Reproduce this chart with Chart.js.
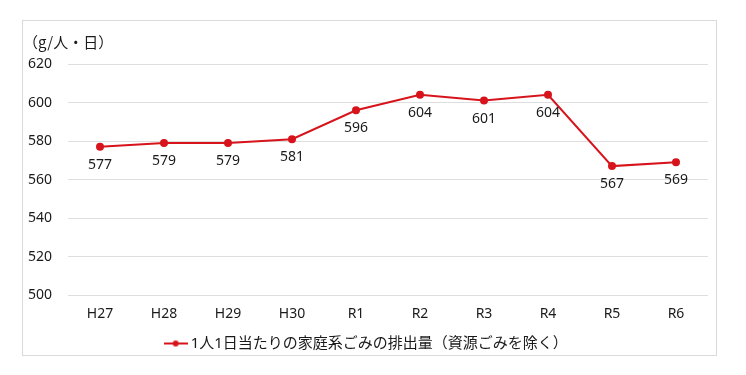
<!DOCTYPE html>
<html>
<head>
<meta charset="utf-8">
<script src="https://cdn.jsdelivr.net/npm/chart.js@4/dist/chart.umd.min.js"></script>
<style>
  html, body { margin: 0; padding: 0; background: #fff; }
  #wrap { width: 746px; height: 375px; }
</style>
</head>
<body>
<div id="wrap"><canvas id="chart" width="746" height="375"></canvas></div>
<script>
// データ
const years = ['H27', 'H28', 'H29', 'H30', 'R1', 'R2', 'R3', 'R4', 'R5', 'R6'];
const perPersonGrams = [577, 579, 579, 581, 596, 604, 601, 604, 567, 569];
const seriesName = '1人1日当たりの家庭系ごみの排出量（資源ごみを除く）';
const unitLabel = '（g/人・日）';
const yMin = 500;
const yMax = 620;
const yStep = 20;

const RED = '#d7141c';
const FONT = "'Noto Sans', 'Noto Sans CJK JP', sans-serif";

// 凡例のマーカー（線＋点）
function legendMarker() {
  const c = document.createElement('canvas');
  c.width = 24; c.height = 10;
  const ctx = c.getContext('2d');
  ctx.strokeStyle = RED;
  ctx.lineWidth = 2;
  ctx.beginPath();
  ctx.moveTo(0, 5); ctx.lineTo(24, 5);
  ctx.stroke();
  ctx.fillStyle = RED;
  ctx.beginPath();
  ctx.arc(12, 5, 3, 0, Math.PI * 2);
  ctx.fill();
  return c;
}

// 枠と単位ラベル、データラベル
const decorPlugin = {
  id: 'decor',
  beforeDraw(chart) {
    const ctx = chart.ctx;
    ctx.save();
    ctx.strokeStyle = '#d9d9d9';
    ctx.lineWidth = 1;
    ctx.strokeRect(22.5, 20.5, 694, 335);
    ctx.fillStyle = '#1a1a1a';
    ctx.font = "15px 'Noto Sans CJK JP', sans-serif";
    ctx.textBaseline = 'middle';
    ctx.textAlign = 'left';
    ctx.fillText(unitLabel, 23, 42);
    ctx.restore();
  },
  afterDatasetsDraw(chart) {
    const ctx = chart.ctx;
    const meta = chart.getDatasetMeta(0);
    ctx.save();
    ctx.fillStyle = '#1a1a1a';
    ctx.font = '14px ' + FONT;
    ctx.textAlign = 'center';
    ctx.textBaseline = 'middle';
    meta.data.forEach((pt, i) => {
      ctx.fillText(String(perPersonGrams[i]), pt.x, pt.y + 18);
    });
    ctx.restore();
  }
};

new Chart(document.getElementById('chart'), {
  type: 'line',
  data: {
    labels: years,
    datasets: [{
      label: seriesName,
      data: perPersonGrams,
      borderColor: RED,
      backgroundColor: RED,
      borderWidth: 2,
      pointRadius: 3,
      pointHoverRadius: 3,
      tension: 0
    }]
  },
  options: {
    responsive: false,
    animation: false,
    layout: { padding: { left: 28, right: 38, top: 64, bottom: 14 } },
    plugins: {
      tooltip: { enabled: false },
      legend: {
        position: 'bottom',
        labels: {
          usePointStyle: true,
          pointStyle: legendMarker(),
          color: '#1a1a1a',
          font: { family: FONT, size: 15 },
          padding: 6
        }
      }
    },
    scales: {
      x: {
        offset: true,
        grid: { display: false },
        border: { display: false },
        ticks: { color: '#1a1a1a', font: { family: FONT, size: 14 }, padding: 2 },
        afterFit(axis) { axis.height += 6; }
      },
      y: {
        min: yMin,
        max: yMax,
        grid: { color: '#dedede', drawTicks: false },
        border: { display: false },
        ticks: {
          stepSize: yStep,
          color: '#1a1a1a',
          font: { family: FONT, size: 14 },
          crossAlign: 'far',
          padding: 12
        },
        afterFit(axis) { axis.width = 40; }
      }
    }
  },
  plugins: [decorPlugin]
});
</script>
</body>
</html>
